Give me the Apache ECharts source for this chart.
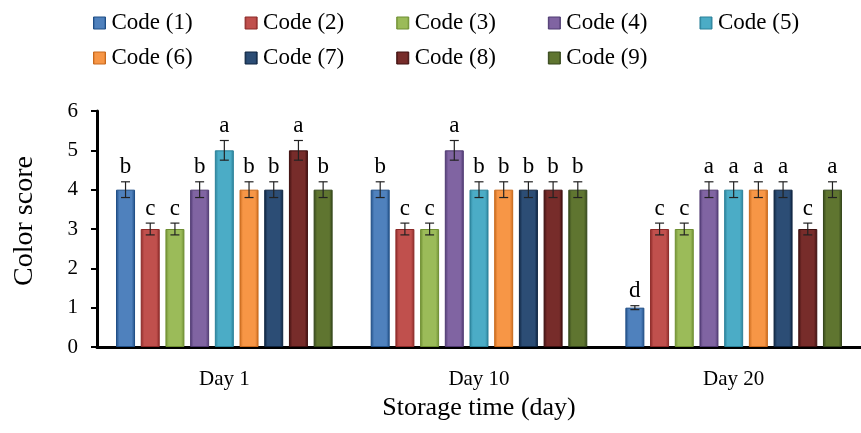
<!DOCTYPE html>
<html lang="en">
<head>
    <meta charset="utf-8" />
    <script src="https://cdn.jsdelivr.net/npm/echarts@6/dist/echarts.min.js"></script>
    <title>color_score</title>
</head>
<body style="margin:0; background:#fff;">
<div id="main" style="width:861px; height:433px;"></div>
<script type="text/javascript">
    let myChart = echarts.init(document.getElementById('main'));

    const days = ['Day 1', 'Day 10', 'Day 20'];
    const codeNames = ['Code (1)', 'Code (2)', 'Code (3)', 'Code (4)', 'Code (5)',
                       'Code (6)', 'Code (7)', 'Code (8)', 'Code (9)'];
    // color score per code, for Day 1 / Day 10 / Day 20
    const code1 = [4, 4, 1];
    const code2 = [3, 3, 3];
    const code3 = [3, 3, 3];
    const code4 = [4, 5, 4];
    const code5 = [5, 4, 4];
    const code6 = [4, 4, 4];
    const code7 = [4, 4, 4];
    const code8 = [5, 4, 3];
    const code9 = [4, 4, 4];
    // error bars (+/-)
    const err1 = [0.2, 0.2, 0.05];
    const err2 = [0.15, 0.15, 0.15];
    const err3 = [0.15, 0.15, 0.15];
    const err4 = [0.2, 0.25, 0.2];
    const err5 = [0.25, 0.2, 0.2];
    const err6 = [0.2, 0.2, 0.2];
    const err7 = [0.2, 0.2, 0.2];
    const err8 = [0.25, 0.2, 0.15];
    const err9 = [0.2, 0.2, 0.2];
    // significance letters
    const letters1 = ['b', 'b', 'd'];
    const letters2 = ['c', 'c', 'c'];
    const letters3 = ['c', 'c', 'c'];
    const letters4 = ['b', 'a', 'a'];
    const letters5 = ['a', 'b', 'a'];
    const letters6 = ['b', 'b', 'a'];
    const letters7 = ['b', 'b', 'a'];
    const letters8 = ['a', 'b', 'c'];
    const letters9 = ['b', 'b', 'a'];

    const values = [code1, code2, code3, code4, code5, code6, code7, code8, code9];
    const errors = [err1, err2, err3, err4, err5, err6, err7, err8, err9];
    const letters = [letters1, letters2, letters3, letters4, letters5, letters6, letters7, letters8, letters9];

    const colors = ['#4f81bd', '#c0504d', '#9bbb59', '#8064a2', '#4bacc6',
                    '#f79646', '#2c4d75', '#772c2a', '#5f7530'];
    const borders = ['#1f4e86', '#8c2a28', '#6f8f32', '#4f3a72', '#2b8199',
                     '#c8691c', '#0e2440', '#3f1010', '#34461a'];

    const barWidth = 19;
    const barGap = 0.3;
    const pitch = barWidth * (1 + barGap);
    const serif = '"Liberation Serif", "DejaVu Serif", serif';

    let series = codeNames.map(function (name, i) {
        return {
            name: name,
            type: 'bar',
            barWidth: barWidth,
            barGap: (barGap * 100) + '%',
            itemStyle: {
                color: new echarts.graphic.LinearGradient(0, 0, 1, 0, [
                    { offset: 0, color: borders[i] },
                    { offset: 0.18, color: colors[i] },
                    { offset: 0.82, color: colors[i] },
                    { offset: 1, color: borders[i] }
                ]),
                borderColor: borders[i],
                borderWidth: 1
            },
            data: values[i]
        };
    });

    let errData = [];
    for (let s = 0; s < values.length; s++) {
        for (let d = 0; d < days.length; d++) {
            errData.push([d, values[s][d], errors[s][d], s, letters[s][d]]);
        }
    }

    series.push({
        name: 'err',
        type: 'custom',
        data: errData,
        z: 10,
        renderItem: function (params, api) {
            let d = api.value(0);
            let v = api.value(1);
            let e = api.value(2);
            let s = api.value(3);
            let letter = errData[params.dataIndex][4];
            let dx = (s - 4) * pitch;
            let hi = api.coord([d, v + e]);
            let lo = api.coord([d, v - e]);
            let x = hi[0] + dx;
            let cap = 4.5;
            let st = { stroke: '#222', lineWidth: 1.2 };
            return {
                type: 'group',
                children: [
                    { type: 'line', shape: { x1: x, y1: hi[1], x2: x, y2: lo[1] }, style: st },
                    { type: 'line', shape: { x1: x - cap, y1: hi[1], x2: x + cap, y2: hi[1] }, style: st },
                    { type: 'line', shape: { x1: x - cap, y1: lo[1], x2: x + cap, y2: lo[1] }, style: st },
                    {
                        type: 'text',
                        style: {
                            x: x, y: hi[1] - 3,
                            text: letter,
                            align: 'center', verticalAlign: 'bottom',
                            font: '23px ' + serif,
                            fill: '#000'
                        }
                    }
                ]
            };
        }
    });

    let legendBase = {
        left: 88,
        icon: 'rect',
        itemWidth: 12,
        itemHeight: 12,
        itemGap: 52,
        itemStyle: { borderWidth: 1 },
        textStyle: { fontSize: 23, lineHeight: 24, color: '#000', fontFamily: serif, padding: [0, 0, 0, 1] }
    };

    option = {
        animation: false,
        textStyle: { fontFamily: serif },
        legend: [
            Object.assign({ data: codeNames.slice(0, 5), top: 6 }, legendBase),
            Object.assign({ data: codeNames.slice(5), top: 41 }, legendBase)
        ],
        grid: {
            left: 97,
            right: -11,
            top: 111,
            bottom: 86,
            containLabel: false
        },
        xAxis: {
            type: 'category',
            data: days,
            name: 'Storage time (day)',
            nameLocation: 'middle',
            nameGap: 48,
            nameTextStyle: { fontSize: 26, color: '#000', fontFamily: serif },
            axisLine: { lineStyle: { color: '#000', width: 3 } },
            axisTick: { show: false },
            axisLabel: { fontSize: 21, color: '#000', margin: 22, fontFamily: serif }
        },
        yAxis: {
            type: 'value',
            min: 0,
            max: 6,
            interval: 1,
            name: 'Color score',
            nameLocation: 'middle',
            nameGap: 58,
            nameTextStyle: { fontSize: 28, color: '#000', fontFamily: serif, padding: [0, 0, 0, 16] },
            axisLine: { show: true, lineStyle: { color: '#000', width: 3 } },
            axisTick: { show: true, length: 6, lineStyle: { color: '#000', width: 2 } },
            axisLabel: { fontSize: 21, color: '#000', margin: 19, fontFamily: serif },
            splitLine: { show: false }
        },
        series: series
    };
    myChart.setOption(option);
</script>
</body>
</html>
